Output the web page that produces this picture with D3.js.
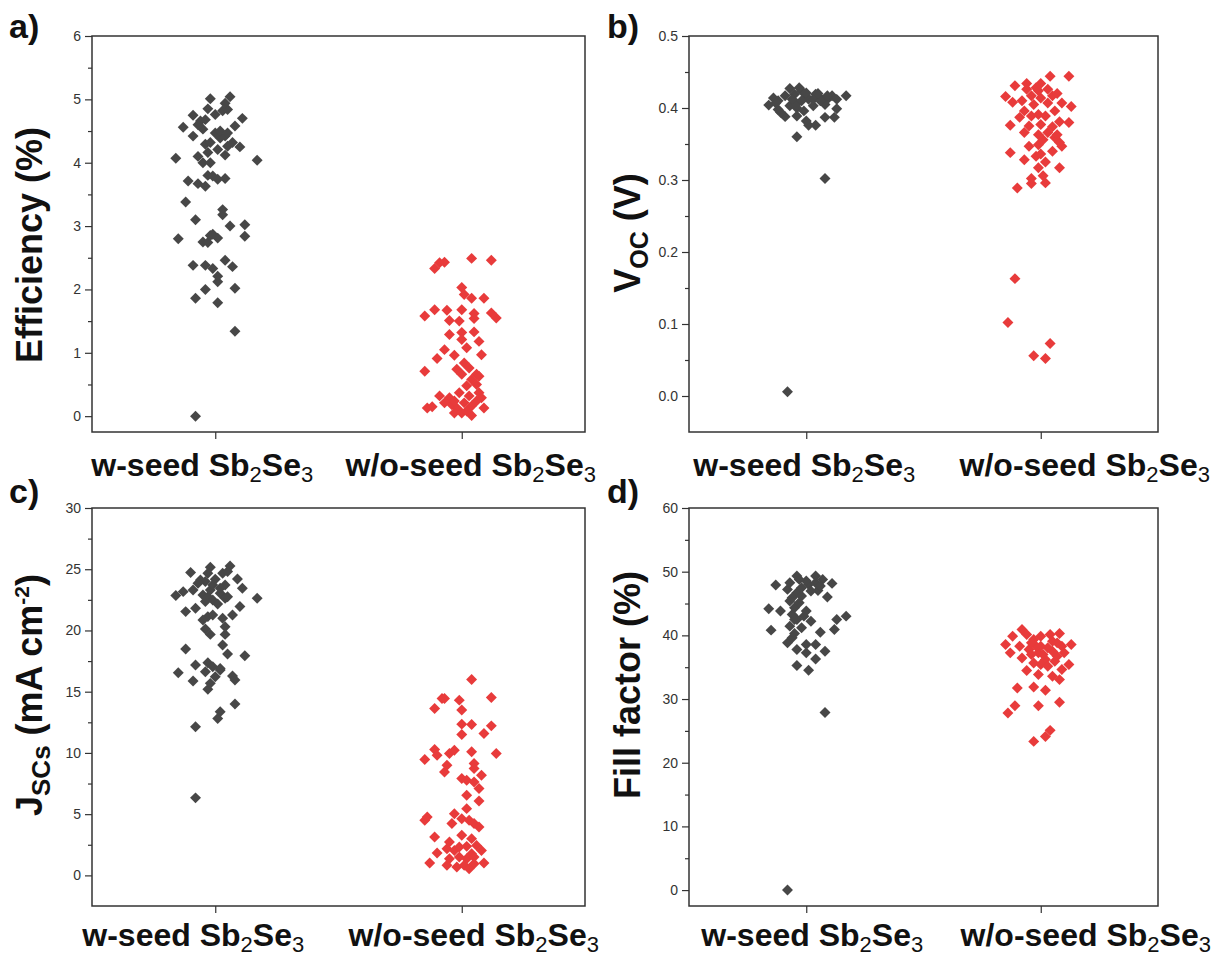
<!DOCTYPE html>
<html><head><meta charset="utf-8">
<script src="https://cdn.jsdelivr.net/npm/d3@7"></script>
<style>body{margin:0;background:#fff} svg{display:block}</style>
</head><body>
<svg id="chart" width="1229" height="959"></svg>
<script>
// ---------- data (x = category position incl. jitter, y = value) ----------
const categories = [1, 2];
const categoryNames = ["w-seed", "w/o-seed"];

const effTicks = [0, 1, 2, 3, 4, 5, 6];
const vocTicks = [0.0, 0.1, 0.2, 0.3, 0.4, 0.5];
const jscTicks = [0, 5, 10, 15, 20, 25, 30];
const ffTicks  = [0, 10, 20, 30, 40, 50, 60];

const effSeed = [[0.92,0.00],[1.08,1.34],[1.01,1.79],[0.92,1.86],[0.96,2.00],[1.08,2.02],[1.01,2.12],[1.01,2.21],[0.99,2.33],[0.96,2.38],[0.91,2.38],[1.07,2.36],[1.04,2.46],[0.85,2.80],[0.95,2.75],[0.97,2.74],[0.98,2.85],[1.01,2.81],[0.99,2.87],[1.12,2.84],[1.06,3.00],[1.12,3.02],[0.92,3.10],[1.03,3.18],[1.03,3.26],[0.88,3.38],[0.89,3.71],[0.93,3.67],[0.96,3.63],[0.97,3.80],[0.99,3.79],[1.01,3.74],[1.04,3.75],[0.84,4.07],[1.17,4.04],[0.93,4.10],[0.95,4.00],[0.98,4.00],[0.97,4.16],[1.04,4.12],[1.01,4.21],[1.05,4.26],[1.10,4.25],[0.96,4.29],[0.98,4.32],[1.02,4.39],[1.04,4.42],[1.07,4.32],[0.91,4.42],[0.95,4.53],[1.00,4.47],[1.02,4.50],[1.05,4.47],[1.08,4.58],[0.87,4.56],[0.94,4.66],[0.91,4.75],[0.96,4.68],[1.00,4.76],[1.03,4.82],[1.05,4.84],[1.11,4.70],[0.97,4.85],[1.04,4.94],[0.98,5.01],[1.06,5.04],[0.93,4.60]];
const effNoSeed = [[1.89,2.33],[1.91,2.42],[1.93,2.43],[2.04,2.49],[2.12,2.46],[2.00,2.03],[2.01,1.92],[2.04,1.86],[2.09,1.86],[1.85,1.58],[1.89,1.68],[1.94,1.67],[2.00,1.68],[2.05,1.62],[2.12,1.63],[2.14,1.55],[1.95,1.51],[1.99,1.50],[2.05,1.54],[1.95,1.29],[2.00,1.32],[2.05,1.33],[2.00,1.21],[2.07,1.18],[1.93,1.05],[2.02,1.08],[2.08,0.97],[1.97,0.96],[1.90,0.91],[1.85,0.71],[1.98,0.74],[2.01,0.84],[2.03,0.76],[2.00,0.66],[2.06,0.66],[2.07,0.63],[2.04,0.58],[2.02,0.48],[2.06,0.50],[1.91,0.32],[1.95,0.29],[1.99,0.37],[2.03,0.32],[2.07,0.37],[2.08,0.29],[1.86,0.13],[1.88,0.15],[1.93,0.21],[1.96,0.18],[1.98,0.13],[2.01,0.21],[2.04,0.16],[2.06,0.24],[2.09,0.13],[1.97,0.05],[2.00,0.05],[2.04,0.01],[2.02,0.08],[1.97,0.24]];

const vocSeed = [[0.92,0.006],[1.08,0.302],[0.96,0.360],[1.01,0.376],[1.04,0.376],[1.08,0.387],[1.12,0.387],[0.91,0.388],[0.96,0.389],[1.00,0.382],[0.89,0.394],[0.99,0.396],[1.13,0.399],[0.84,0.404],[0.88,0.410],[0.93,0.403],[0.96,0.406],[1.03,0.403],[1.08,0.405],[1.09,0.412],[0.86,0.414],[0.91,0.417],[0.95,0.419],[1.00,0.416],[1.04,0.419],[1.06,0.414],[1.11,0.417],[1.17,0.417],[0.98,0.424],[0.93,0.427],[0.97,0.428],[1.01,0.412],[0.94,0.412],[0.98,0.410],[1.03,0.412],[1.06,0.410],[0.88,0.398],[1.09,0.417],[0.87,0.407],[0.96,0.400],[1.00,0.421],[1.05,0.420],[1.13,0.412]];
const vocNoSeed = [[1.89,0.163],[1.86,0.102],[2.04,0.073],[1.97,0.056],[2.02,0.052],[1.90,0.289],[1.96,0.295],[2.02,0.296],[1.96,0.302],[2.01,0.306],[2.08,0.317],[1.99,0.317],[2.02,0.325],[1.93,0.328],[1.98,0.333],[2.00,0.336],[1.87,0.338],[2.05,0.340],[1.95,0.347],[1.99,0.349],[2.09,0.347],[2.08,0.352],[2.01,0.356],[2.06,0.359],[1.99,0.363],[1.93,0.366],[2.03,0.366],[2.07,0.363],[1.87,0.376],[1.95,0.375],[2.00,0.377],[2.05,0.374],[2.08,0.381],[2.12,0.380],[1.91,0.387],[1.96,0.389],[1.99,0.391],[2.02,0.389],[2.06,0.396],[1.93,0.396],[2.13,0.402],[1.88,0.408],[1.92,0.410],[1.97,0.405],[2.03,0.407],[2.09,0.407],[1.85,0.416],[1.96,0.417],[2.00,0.414],[2.05,0.417],[2.07,0.420],[1.94,0.426],[1.99,0.424],[2.03,0.426],[1.89,0.431],[1.94,0.434],[2.00,0.434],[2.04,0.444],[2.12,0.444],[1.98,0.428]];

const jscSeed = [[0.92,6.33],[0.92,12.13],[1.01,12.81],[1.02,13.36],[1.08,13.99],[0.97,15.19],[0.98,15.68],[0.91,15.87],[1.08,15.95],[1.07,16.28],[0.85,16.55],[1.00,16.22],[0.96,16.63],[1.02,16.77],[0.92,17.18],[0.97,17.37],[1.02,16.90],[0.99,17.04],[0.88,18.48],[1.05,18.08],[1.12,17.94],[1.03,18.81],[1.04,19.68],[0.98,19.68],[0.96,20.12],[1.04,20.31],[0.92,21.81],[0.88,21.54],[0.97,21.13],[0.99,21.27],[1.03,20.99],[1.07,21.27],[1.10,21.95],[0.95,20.86],[0.84,22.85],[0.87,23.17],[0.91,23.31],[0.95,22.90],[0.97,22.76],[0.99,22.49],[1.02,23.04],[1.04,22.63],[1.05,22.76],[1.17,22.63],[0.96,22.36],[1.01,22.16],[0.98,23.31],[0.94,24.13],[0.96,23.99],[0.99,23.72],[1.04,23.72],[1.11,23.45],[0.90,24.73],[0.98,25.16],[0.97,24.67],[1.03,24.67],[1.06,25.27],[1.05,24.81],[1.09,24.21],[1.00,24.18],[0.93,23.85],[1.02,23.45]];
const jscNoSeed = [[2.04,16.00],[1.89,13.63],[1.92,14.45],[1.93,14.45],[1.99,14.31],[2.00,13.50],[2.12,14.53],[2.00,12.35],[2.04,12.32],[2.12,12.21],[2.09,11.59],[2.00,11.50],[1.85,9.46],[1.89,10.28],[1.90,9.81],[1.95,9.95],[1.97,10.22],[2.04,10.09],[2.14,9.95],[1.94,9.00],[2.05,9.13],[1.93,8.45],[2.05,8.72],[2.08,8.18],[2.00,7.91],[2.02,7.77],[2.05,7.63],[2.07,7.09],[2.02,6.54],[2.07,6.08],[1.85,4.50],[1.86,4.77],[1.96,4.23],[1.97,5.04],[2.00,4.63],[2.02,5.45],[2.03,4.50],[2.05,4.23],[2.07,3.95],[1.89,3.14],[2.00,3.27],[2.04,3.00],[1.95,2.73],[1.94,2.18],[1.97,2.04],[1.99,2.32],[2.02,2.37],[2.06,2.45],[2.08,2.04],[1.90,1.83],[2.04,1.77],[1.95,1.36],[1.99,1.50],[2.02,1.36],[2.05,1.50],[1.87,1.01],[1.94,0.82],[1.98,0.68],[2.01,0.82],[2.05,0.95],[2.09,1.01],[2.03,0.55]];

const ffSeed = [[0.92,0.00],[1.08,27.90],[0.96,35.26],[1.01,34.52],[1.04,36.30],[1.00,37.25],[0.96,37.78],[1.08,37.51],[0.92,38.82],[1.00,38.56],[1.04,38.56],[0.94,39.61],[0.85,40.82],[0.95,40.29],[1.06,40.50],[1.12,40.92],[0.98,41.19],[1.02,42.23],[0.93,41.45],[1.13,42.50],[1.17,43.02],[0.96,42.50],[0.84,44.18],[0.89,43.81],[0.94,43.28],[0.99,43.02],[0.95,44.33],[0.93,45.38],[0.97,45.12],[1.00,43.81],[1.05,47.06],[1.09,46.01],[0.87,47.90],[0.92,47.22],[0.96,46.70],[0.98,47.48],[1.01,48.00],[1.04,48.27],[1.07,48.79],[1.11,48.16],[0.96,49.32],[1.04,49.32],[1.00,48.53],[0.93,48.27],[0.94,45.91],[0.98,46.17],[0.95,42.50],[1.02,46.96],[0.97,48.79],[1.06,47.74]];
const ffNoSeed = [[1.97,23.35],[2.02,24.13],[2.04,25.08],[1.86,27.81],[1.89,28.96],[1.99,28.96],[2.08,29.49],[1.90,31.74],[1.97,31.90],[2.02,31.37],[2.08,33.05],[2.12,35.41],[1.94,34.47],[1.99,33.84],[2.05,33.58],[2.09,34.63],[1.87,37.25],[1.91,38.30],[1.95,37.78],[1.99,37.25],[2.02,36.20],[2.05,37.51],[2.07,36.73],[2.10,37.25],[2.13,38.56],[1.85,38.56],[1.88,39.87],[1.92,40.92],[1.94,40.14],[1.97,39.35],[2.00,39.87],[2.04,40.14],[2.08,40.29],[1.96,36.99],[2.00,35.41],[2.03,38.04],[2.05,39.09],[1.97,35.67],[2.00,38.30],[2.06,35.93],[2.09,38.30],[1.92,36.46],[1.98,38.30],[2.01,36.99],[2.07,38.82],[1.96,38.82],[2.03,35.15]];

// ---------- styling / layout ----------
const GREY = "#474747", RED = "#e83b3b";
const FONT = "'Liberation Sans', Arial, sans-serif";
const TICKFONT = "'Liberation Sans Narrow', 'Liberation Sans', Arial, sans-serif";

// labelShift: horizontal offsets (px) of the two category labels from their ticks, as in the figure
const panels = [
  {tag:"a)", tagX:9, tagY:38, L:92, R:585, T:36, B:432, labelY:476, labelShift:[-13, 9], domain:[-0.25,6], ticks:effTicks, minorStep:0.5, fmt:d3.format("d"), seed:effSeed, noSeed:effNoSeed, title:"eff", titleX:42, titleY:245},
  {tag:"b)", tagX:607, tagY:38, L:689, R:1158, T:36, B:432, labelY:476, labelShift:[-2, 44], domain:[-0.05,0.5], ticks:vocTicks, minorStep:0.05, fmt:d3.format(".1f"), seed:vocSeed, noSeed:vocNoSeed, title:"voc", titleX:640, titleY:233},
  {tag:"c)", tagX:9, tagY:503, L:92, R:585, T:508, B:906, labelY:946, labelShift:[-22, 12], domain:[-2.5,30], ticks:jscTicks, minorStep:2.5, fmt:d3.format("d"), seed:jscSeed, noSeed:jscNoSeed, title:"jsc", titleX:42, titleY:695},
  {tag:"d)", tagX:607, tagY:503, L:689, R:1158, T:508, B:906, labelY:946, labelShift:[6, 45], domain:[-2.5,60], ticks:ffTicks, minorStep:5, fmt:d3.format("d"), seed:ffSeed, noSeed:ffNoSeed, title:"ff", titleX:640, titleY:685}
];

const svg = d3.select("#chart");
svg.append("rect").attr("width",1229).attr("height",959).attr("fill","#fff");

const diamond = d3.symbol().type(d3.symbolSquare).size(60)();

panels.forEach(p => {
  const x = d3.scaleLinear().domain([0.5, 2.5]).range([p.L, p.R]);
  const y = d3.scaleLinear().domain(p.domain).range([p.B, p.T]);
  const g = svg.append("g");

  // minor ticks
  const lo = p.ticks[0], hi = p.ticks[p.ticks.length-1];
  const minor = d3.range(lo + p.minorStep, hi, p.minorStep * 2).map(v => +v.toFixed(4));
  g.append("g").attr("transform",`translate(${p.L},0)`)
    .call(d3.axisLeft(y).tickValues(minor).tickSize(4).tickFormat(""))
    .call(s => s.select(".domain").remove())
    .selectAll("line").attr("stroke","#333").attr("stroke-width",1.2);

  // major ticks
  const ya = g.append("g").attr("transform",`translate(${p.L},0)`)
    .call(d3.axisLeft(y).tickValues(p.ticks).tickSize(7).tickPadding(4).tickFormat(p.fmt));
  ya.select(".domain").remove();
  ya.selectAll("line").attr("stroke","#333").attr("stroke-width",1.2);
  ya.selectAll("text").attr("font-family",TICKFONT).attr("font-size",14).attr("fill","#333");

  // x ticks
  const xa = g.append("g").attr("transform",`translate(0,${p.B})`)
    .call(d3.axisBottom(x).tickValues(categories).tickSize(7).tickFormat(""));
  xa.select(".domain").remove();
  xa.selectAll("line").attr("stroke","#333").attr("stroke-width",1.2);

  // frame
  g.append("rect").attr("x",p.L).attr("y",p.T).attr("width",p.R-p.L).attr("height",p.B-p.T)
    .attr("fill","none").attr("stroke","#333").attr("stroke-width",1.5);

  // category labels
  categories.forEach((c,i) => {
    const t = g.append("text").attr("x", x(c) + p.labelShift[i]).attr("y", p.labelY)
      .attr("text-anchor","middle").attr("font-family",FONT).attr("font-weight","bold")
      .attr("font-size",32).attr("fill","#111");
    t.append("tspan").text(categoryNames[i] + " Sb");
    t.append("tspan").text("2").attr("font-size",22).attr("font-weight","normal").attr("dy",6);
    t.append("tspan").text("Se").attr("dy",-6);
    t.append("tspan").text("3").attr("font-size",22).attr("font-weight","normal").attr("dy",6);
  });

  // points
  const draw = (data, color) => g.append("g").selectAll("path").data(data).join("path")
    .attr("d", diamond)
    .attr("transform", d => `translate(${x(d[0])},${y(d[1])}) rotate(45)`)
    .attr("fill", color);
  draw(p.seed, GREY);
  draw(p.noSeed, RED);

  // panel tag
  svg.append("text").attr("x",p.tagX).attr("y",p.tagY).attr("font-family",FONT)
    .attr("font-weight","bold").attr("font-size",34).attr("fill","#111").text(p.tag);

  // axis title
  const tt = svg.append("text").attr("transform",`translate(${p.titleX},${p.titleY}) rotate(-90)`)
    .attr("text-anchor","middle").attr("font-family",FONT).attr("font-weight","bold")
    .attr("font-size",36).attr("fill","#111");
  if (p.title === "eff") tt.text("Efficiency (%)");
  if (p.title === "ff") tt.text("Fill factor (%)");
  if (p.title === "voc") {
    tt.append("tspan").text("V");
    tt.append("tspan").text("OC").attr("font-size",25).attr("dy",8);
    tt.append("tspan").text(" (V)").attr("dy",-8);
  }
  if (p.title === "jsc") {
    tt.append("tspan").text("J");
    tt.append("tspan").text("SCs").attr("font-size",26).attr("dy",8);
    tt.append("tspan").text(" (mA cm").attr("dy",-8);
    tt.append("tspan").text("-2").attr("font-size",21).attr("dy",-13);
    tt.append("tspan").text(")").attr("dy",13);
  }
});
</script>
</body></html>
